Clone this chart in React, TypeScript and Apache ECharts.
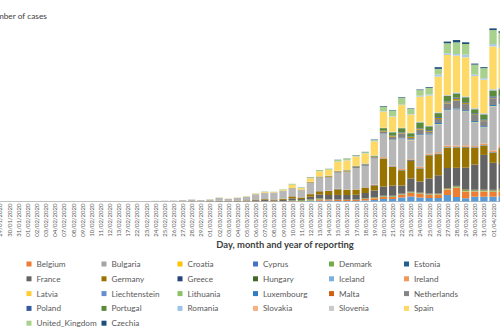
import React, { useEffect, useRef } from "react";
import * as echarts from "echarts";

const DATES = [
  "29/01/2020","30/01/2020","31/01/2020","01/02/2020","02/02/2020","03/02/2020","04/02/2020","07/02/2020","08/02/2020","09/02/2020",
  "10/02/2020","11/02/2020","12/02/2020","13/02/2020","17/02/2020","22/02/2020","23/02/2020","24/02/2020","25/02/2020","26/02/2020",
  "27/02/2020","28/02/2020","29/02/2020","01/03/2020","02/03/2020","03/03/2020","04/03/2020","05/03/2020","06/03/2020","07/03/2020",
  "08/03/2020","09/03/2020","10/03/2020","11/03/2020","12/03/2020","13/03/2020","14/03/2020","15/03/2020","16/03/2020","17/03/2020",
  "18/03/2020","19/03/2020","20/03/2020","21/03/2020","22/03/2020","23/03/2020","24/03/2020","25/03/2020","26/03/2020","27/03/2020",
  "28/03/2020","29/03/2020","30/03/2020","31/03/2020","01/04/2020","02/04/2020",
];

const Z10 = [0,0,0,0,0,0,0,0,0,0];

const austria = [...Z10, ...Z10, 0,2,0,4,8,6,10,14,12,20, 20,30,40,40,100,140,160,100,100,100, 200,300,500,500,800,1000,800,700,700,1300, 900,640,960,960,960,1000];
const belgium = [0,0,0,0,0,0,1,0,0,0, ...Z10, 0,0,0,0,2,5,4,10,20,30, 40,40,60,60,100,260,200,200,200,200, 300,340,400,400,500,700,700,600,600,1000, 1800,1320,1000,1000,940,1000];
const bulgaria = [...Z10, ...Z10, ...Z10, 0,4,0,0,2,0,0,0,20,10, 20,10,30,20,20,10,20,20,20,30, 20,30,20,30,20,20];
const croatia = [...Z10, ...Z10, 2,1,0,0,2,2,0,0,1,1, 0,2,0,0,1,13,0,19,0,0, 20,40,30,20,50,60,70,40,70,90, 70,80,60,70,60,60];
const cyprus = [...Z10, ...Z10, ...Z10, 0,0,2,4,0,0,13,0,5,6, 30,12,20,20,40,30,10,30,20,30, 30,20,30,20,20,30];
const denmark = [...Z10, ...Z10, 0,1,0,1,1,2,1,5,10,8, 10,10,100,170,190,160,40,35,30,60, 80,90,100,120,80,100,80,90,100,120, 200,200,160,160,200,300];
const estonia = [...Z10, ...Z10, 0,1,0,0,0,0,0,1,2,5, 0,2,3,2,6,0,40,30,10,27, 24,50,40,30,50,40,40,40,50,40, 30,50,40,40,40,40];
const finland = [...Z10, ...Z10, 1,0,0,0,1,0,2,6,3,8, 10,0,10,15,20,40,50,30,30,40, 30,40,50,60,60,80,70,80,80,90, 80,90,100,100,100,100];
const france = [1,0,1,0,0,0,0,0,0,5, 0,0,0,0,0,0,0,0,0,2, 0,20,20,40,80,60,60,120,200,220, 160,240,400,200,540,800,800,900,900,900, 1000,1320,1800,2000,1600,2600,2200,3000,3600,4000, 3600,4340,5000,6940,5400,5000];
const germany = [1,3,0,1,2,2,0,1,2,0, 2,0,0,1,0,0,0,0,2,6, 20,40,20,40,60,60,100,80,140,160, 160,200,400,300,500,600,800,1100,1000,1000, 1000,1000,5600,3800,3000,3600,2600,4600,4200,4000, 4000,4000,3340,1800,2000,3000];
const greece = [...Z10, ...Z10, 1,0,1,0,3,0,2,3,9,13, 0,20,11,0,10,40,0,50,30,0, 60,60,30,30,50,100,40,50,70,70, 80,80,70,70,60,90];
const hungary = [...Z10, ...Z10, ...Z10, 0,0,5,3,0,4,3,9,0,7, 10,8,15,20,20,15,20,30,40,40, 40,40,50,40,50,60];
const iceland = [...Z10, ...Z10, 0,1,0,0,3,2,10,10,15,10, 8,7,20,15,0,20,40,20,30,40, 20,50,50,60,40,20,60,60,80,70, 80,60,50,50,60,60];
const ireland = [...Z10, ...Z10, 0,0,1,0,0,1,0,5,4,9, 0,3,10,10,30,30,0,50,40,70, 70,100,200,120,200,120,220,200,240,300, 250,300,200,300,300,400];
const italy = [0,0,2,0,0,0,0,0,0,0, 0,0,0,0,0,16,60,140,160,180, 240,320,240,320,560,380,520,660,1000,1200, 1300,1500,1500,1400,2200,2600,2600,3200,3400,4200, 4200,5140,4660,5000,6060,3800,6340,3800,5540,7000, 7140,6740,4700,3200,8800,8200];
const latvia = [...Z10, ...Z10, ...Z10, 0,0,1,0,0,6,7,0,16,4, 0,10,20,30,20,15,15,20,25,25, 30,30,30,20,30,25];
const liechtenstein = [...Z10, ...Z10, ...Z10, 0,0,0,0,0,0,4,0,0,0, 0,5,0,10,10,0,10,0,0,0, 10,0,0,5,5,5];
const lithuania = [...Z10, ...Z10, 0,0,0,0,0,0,1,0,0,0, 0,0,0,0,2,3,0,6,4,0, 10,0,10,20,20,40,30,30,60,60, 50,50,80,60,50,60];
const luxembourg = [...Z10, ...Z10, 0,0,0,0,1,0,0,0,1,2, 0,0,2,0,2,10,20,20,20,20, 40,60,100,100,100,100,150,150,200,200, 200,200,200,200,200,200];
const malta = [...Z10, ...Z10, ...Z10, 0,1,0,2,1,3,6,0,7,10, 10,20,8,10,10,10,20,10,10,20, 10,20,10,10,10,10];
const netherlands = [...Z10, ...Z10, 0,1,1,5,8,6,10,18,20,40, 40,60,60,60,100,100,140,160,160,200, 200,200,300,600,880,260,860,400,800,1140, 1600,1200,1200,1000,1340,1200];
const norway = [...Z10, ...Z10, 0,1,2,5,10,8,6,20,30,40, 20,30,40,60,100,100,150,100,120,100, 60,100,150,150,150,200,200,200,200,200, 340,200,150,150,120,150];
const poland = [...Z10, ...Z10, ...Z10, 0,0,10,0,6,20,17,0,43,20, 60,40,60,60,100,80,110,150,170,170, 200,160,200,200,240,250];
const portugal = [...Z10, ...Z10, 0,0,0,0,0,2,0,2,4,4, 10,9,11,20,20,40,40,60,80,100, 100,140,500,660,800,680,1140,740,800,1120, 860,1000,800,1000,1200,1200];
const romania = [...Z10, ...Z10, 0,1,0,0,0,0,0,0,1,2, 0,4,2,10,1,5,17,15,20,26, 30,40,50,60,60,60,100,100,120,130, 140,120,170,160,200,220];
const slovakia = [...Z10, ...Z10, ...Z10, 0,0,2,1,4,7,9,10,12,16, 13,18,14,40,20,20,12,20,30,30, 40,40,30,50,40,30];
const slovenia = [...Z10, ...Z10, 0,0,0,0,1,0,5,3,4,6, 0,10,20,15,20,40,47,40,34,19, 20,30,30,30,20,20,40,30,40,30, 30,30,30,30,40,30];
const spain = [0,0,1,0,0,0,0,0,0,1, 0,0,0,0,0,0,0,0,2,4, 6,11,10,20,40,40,40,60,100,120, 100,200,600,300,700,1000,1100,1800,1900,1800, 2000,2800,3200,3000,4520,3660,5000,6000,7120,8000, 7340,7800,6400,6700,8540,8000];
const sweden = [...Z10, ...Z10, 0,1,0,4,5,1,3,4,10,15, 20,30,40,40,50,40,40,60,60,70, 60,100,100,100,100,100,200,200,400,340, 320,520,300,300,460,400];
const unitedKingdom = [0,0,2,0,0,0,0,0,0,1, 4,0,0,1,0,0,0,0,4,0, 0,15,4,20,20,20,20,40,60,80, 60,100,200,100,160,200,200,300,300,200, 200,200,900,1140,1340,1000,1120,1320,1140,2000, 2340,2140,2000,2000,2800,2600];
const czechia = [...Z10, ...Z10, 0,0,0,0,3,0,2,4,6,8, 0,6,5,23,31,20,20,40,40,60, 60,80,120,100,120,100,120,150,340,340, 460,340,200,200,340,300];

const SERIES: [string, number[], string][] = [
  ["Austria", austria, "#5B9BD5"],
  ["Belgium", belgium, "#ED7D31"],
  ["Bulgaria", bulgaria, "#A5A5A5"],
  ["Croatia", croatia, "#FFC000"],
  ["Cyprus", cyprus, "#4472C4"],
  ["Denmark", denmark, "#70AD47"],
  ["Estonia", estonia, "#255E91"],
  ["Finland", finland, "#9E480E"],
  ["France", france, "#636363"],
  ["Germany", germany, "#997300"],
  ["Greece", greece, "#264478"],
  ["Hungary", hungary, "#43682B"],
  ["Iceland", iceland, "#7CAFDD"],
  ["Ireland", ireland, "#F1975A"],
  ["Italy", italy, "#B7B7B7"],
  ["Latvia", latvia, "#FFCD33"],
  ["Liechtenstein", liechtenstein, "#698ED0"],
  ["Lithuania", lithuania, "#8CC168"],
  ["Luxembourg", luxembourg, "#327DC2"],
  ["Malta", malta, "#D26012"],
  ["Netherlands", netherlands, "#848484"],
  ["Norway", norway, "#BF9000"],
  ["Poland", poland, "#335AA1"],
  ["Portugal", portugal, "#5A8A3A"],
  ["Romania", romania, "#9DC3E6"],
  ["Slovakia", slovakia, "#F4B183"],
  ["Slovenia", slovenia, "#C9C9C9"],
  ["Spain", spain, "#FFD966"],
  ["Sweden", sweden, "#A9C9E8"],
  ["United_Kingdom", unitedKingdom, "#A9D18E"],
  ["Czechia", czechia, "#1F4E79"],
];

const LEGEND_COLUMNS = [
  ["Belgium", "France", "Latvia", "Poland", "United_Kingdom"],
  ["Bulgaria", "Germany", "Liechtenstein", "Portugal", "Czechia"],
  ["Croatia", "Greece", "Lithuania", "Romania"],
  ["Cyprus", "Hungary", "Luxembourg", "Slovakia"],
  ["Denmark", "Iceland", "Malta", "Slovenia"],
  ["Estonia", "Ireland", "Netherlands", "Spain"],
];
const LEGEND_X = [26.5, 101.5, 177.5, 253, 329, 404];

const OFFSET = 100;

export default function App() {
  const ref = useRef<HTMLDivElement>(null);
  useEffect(() => {
    if (!ref.current) return;
    const chart = echarts.init(ref.current, undefined, { renderer: "svg" });
    const option: any = {
      animation: false,
      textStyle: { fontFamily: "Lato" },
      title: {
        text: "Number of cases",
        left: OFFSET - 14,
        top: 12,
        padding: 0,
        textStyle: { fontSize: 8.3, fontWeight: "normal", color: "#404040", fontFamily: "Lato" },
      },
      grid: { left: OFFSET - 4.57, width: 511.3, top: 21.5, height: 180 },
      xAxis: {
        type: "category",
        data: DATES,
        axisLine: { lineStyle: { color: "#BFBFBF", width: 1 } },
        axisTick: { interval: 0, length: 3, lineStyle: { color: "#BFBFBF" } },
        axisLabel: { interval: 0, rotate: 90, fontSize: 6, color: "#595959", margin: 2, fontFamily: "Lato" },
      },
      yAxis: { type: "value", min: 0, max: 36000, show: false },
      legend: LEGEND_COLUMNS.map((col, i) => ({
        data: col,
        orient: "vertical",
        left: OFFSET + LEGEND_X[i],
        top: 259,
        itemWidth: 5,
        itemHeight: 5,
        itemGap: 4.8,
        icon: "rect",
        selectedMode: false,
        padding: 0,
        textStyle: { fontSize: 8.2, color: "#595959", fontFamily: "Lato", lineHeight: 10 },
      })),
      graphic: [
        {
          type: "text",
          x: OFFSET + 285,
          y: 244,
          style: {
            text: "Day, month and year of reporting",
            font: "bold 9.4px Lato",
            fill: "#404040",
            align: "center",
            verticalAlign: "middle",
            textAlign: "center",
            textVerticalAlign: "middle",
          },
        },
      ],
      series: SERIES.map(([name, data, color]) => ({
        name,
        type: "bar",
        stack: "total",
        data,
        barCategoryGap: "20%",
        itemStyle: { color },
        emphasis: { disabled: true },
      })),
    };
    chart.setOption(option);
    return () => chart.dispose();
  }, []);
  return (
    <div style={{ position: "fixed", left: 0, top: 0, width: 500, height: 335, overflow: "hidden", background: "#fff" }}>
      <div ref={ref} style={{ position: "absolute", left: -OFFSET, top: 0, width: 700, height: 335 }} />
    </div>
  );
}
